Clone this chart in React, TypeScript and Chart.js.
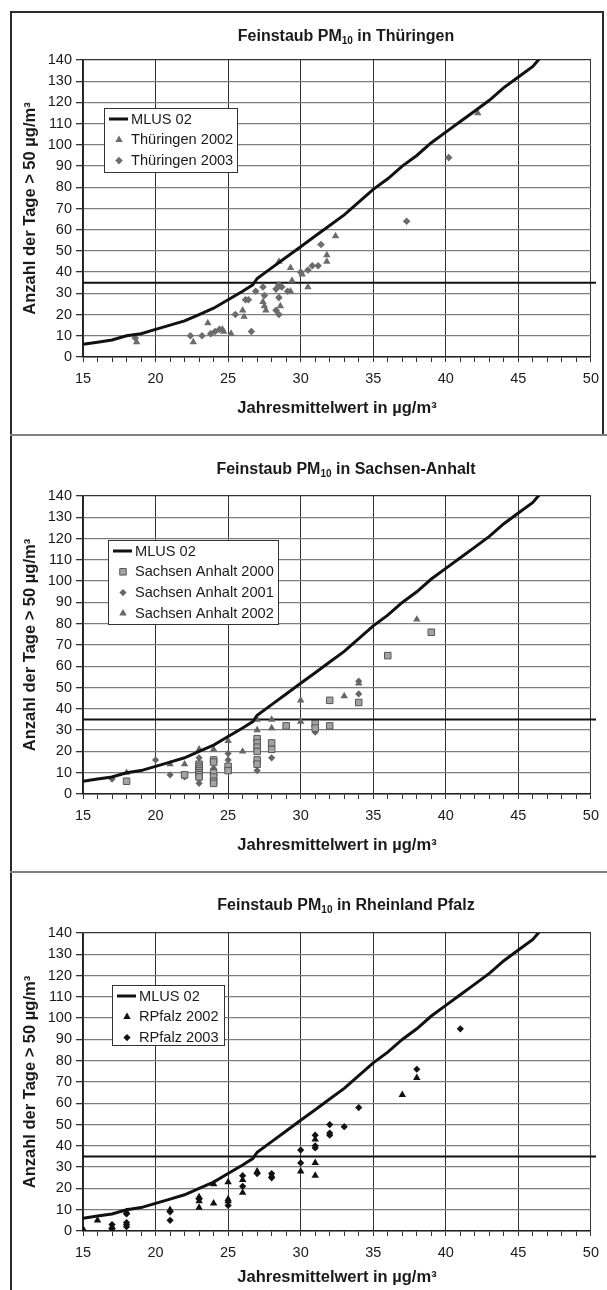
import React, { useEffect, useRef } from 'react';
import { Chart, registerables } from 'chart.js';

Chart.register(...registerables);

// ---------- data ----------
const X_TICK_LABELS = [15, 20, 25, 30, 35, 40, 45, 50];
const Y_TICK_LABELS = [0, 10, 20, 30, 40, 50, 60, 70, 80, 90, 100, 110, 120, 130, 140];
const LIMIT_DAYS = 35;

const MLUS_X = [15, 16, 17, 18, 19, 20, 21, 22, 23, 24, 25, 26, 26.7, 27, 28, 29, 30, 31, 32, 33, 34, 35, 36, 37, 38, 39, 40, 41, 42, 43, 44, 45, 46, 46.5];
const MLUS_Y = [6, 7, 8, 10, 11, 13, 15, 17, 20, 23, 27, 31, 34, 37, 42, 47, 52, 57, 62, 67, 73, 79, 84, 90, 95, 101, 106, 111, 116, 121, 127, 132, 137, 141];

// Thüringen
const TH2002_X = [18.7, 22.6, 23.6, 24.6, 24.7, 25.2, 26.0, 26.1, 27.4, 27.5, 27.6, 28.5, 28.4, 28.6, 29.3, 29.4, 29.3, 30.1, 30.5, 31.8, 31.8, 32.4, 42.2];
const TH2002_Y = [7, 7, 16, 13, 12, 11, 22, 19, 26, 24, 22, 45, 33, 24, 42, 36, 31, 39, 33, 48, 45, 57, 115];
const TH2003_X = [18.6, 22.4, 23.2, 23.8, 24.1, 24.4, 25.5, 26.2, 26.4, 26.6, 26.9, 27.4, 27.5, 28.3, 28.5, 28.7, 28.5, 28.3, 28.5, 29.1, 30.0, 30.5, 30.8, 31.2, 31.4, 37.3, 40.2];
const TH2003_Y = [9, 10, 10, 11, 12, 13, 20, 27, 27, 12, 31, 33, 29, 32, 34, 33, 28, 22, 20, 31, 40, 41, 43, 43, 53, 64, 94];

// Sachsen-Anhalt
const SA2000_X = [18, 22, 23, 23, 23, 23, 23, 23, 23, 24, 24, 24, 24, 24, 24, 25, 25, 27, 27, 27, 27, 27, 27, 28, 28, 29, 31, 31, 32, 32, 34, 36, 39];
const SA2000_Y = [6, 9, 14, 13, 12, 11, 10, 9, 8, 16, 15, 10, 8, 6, 5, 13, 11, 26, 24, 22, 20, 16, 14, 24, 21, 32, 33, 31, 44, 32, 43, 65, 76];
const SA2001_X = [17, 20, 21, 22, 23, 23, 23, 24, 24, 25, 25, 27, 27, 27, 27, 28, 31, 34, 34];
const SA2001_Y = [7, 16, 9, 8, 17, 7, 5, 12, 9, 19, 16, 25, 21, 15, 11, 17, 29, 53, 47];
const SA2002_X = [18, 21, 22, 23, 24, 25, 26, 27, 27, 28, 28, 30, 30, 33, 34, 38];
const SA2002_Y = [10, 14, 14, 21, 21, 25, 20, 35, 30, 35, 31, 44, 34, 46, 52, 82];

// Rheinland-Pfalz
const RP2002_X = [15, 16, 17, 18, 21, 23, 23, 23, 24, 24, 25, 25, 25, 26, 26, 27, 28, 30, 31, 31, 31, 37, 38];
const RP2002_Y = [1, 5, 2, 9, 10, 16, 14, 11, 22, 13, 23, 15, 14, 24, 18, 28, 26, 28, 43, 32, 26, 64, 72];
const RP2003_X = [17, 17, 18, 18, 18, 18, 21, 21, 23, 25, 26, 26, 27, 28, 28, 30, 30, 31, 31, 31, 32, 32, 32, 33, 34, 38, 41];
const RP2003_Y = [3, 1, 8, 4, 3, 2, 9, 5, 15, 12, 26, 21, 27, 27, 25, 38, 32, 45, 40, 39, 50, 46, 45, 49, 58, 76, 95];

// ---------- helpers ----------
const FONT = '"Liberation Sans", Arial, Helvetica, sans-serif';
const zip = (xs: number[], ys: number[]) => xs.map((x, i) => ({ x, y: ys[i] }));

function drawMarker(ctx: CanvasRenderingContext2D, style: string, x: number, y: number, r: number, fill: string, stroke: string, bw: number) {
  ctx.beginPath();
  if (style === 'triangle') {
    ctx.moveTo(x, y - r);
    ctx.lineTo(x + r * 0.866, y + r * 0.5);
    ctx.lineTo(x - r * 0.866, y + r * 0.5);
    ctx.closePath();
  } else if (style === 'rectRot') {
    ctx.moveTo(x, y - r);
    ctx.lineTo(x + r, y);
    ctx.lineTo(x, y + r);
    ctx.lineTo(x - r, y);
    ctx.closePath();
  } else {
    const s = r * Math.SQRT1_2;
    ctx.rect(x - s, y - s, 2 * s, 2 * s);
  }
  ctx.fillStyle = fill;
  ctx.fill();
  if (bw > 0) {
    ctx.lineWidth = bw;
    ctx.strokeStyle = stroke;
    ctx.stroke();
  }
}

const panelTitlePlugin = {
  id: 'panelTitle',
  afterDraw(chart: any, _args: any, opts: any) {
    const ctx = chart.ctx as CanvasRenderingContext2D;
    ctx.save();
    const big = `bold ${opts.size}px ${FONT}`;
    const small = `bold ${opts.subSize}px ${FONT}`;
    ctx.font = big;
    const w1 = ctx.measureText(opts.before).width;
    const w3 = ctx.measureText(opts.after).width;
    ctx.font = small;
    const w2 = ctx.measureText(opts.sub).width;
    let x = opts.x - (w1 + w2 + w3) / 2;
    ctx.fillStyle = '#1a1a1a';
    ctx.textBaseline = 'middle';
    ctx.textAlign = 'left';
    ctx.font = big;
    ctx.fillText(opts.before, x, opts.y);
    x += w1;
    ctx.font = small;
    ctx.fillText(opts.sub, x, opts.y + opts.subShift);
    x += w2;
    ctx.font = big;
    ctx.fillText(opts.after, x, opts.y);
    ctx.restore();
  },
};

const legendBoxPlugin = {
  id: 'legendBox',
  afterDraw(chart: any, _args: any, opts: any) {
    const ctx = chart.ctx as CanvasRenderingContext2D;
    const items = chart.data.datasets.filter((d: any) => d.inLegend);
    ctx.save();
    ctx.fillStyle = '#ffffff';
    ctx.fillRect(opts.left, opts.top, opts.width, opts.height);
    ctx.strokeStyle = '#333';
    ctx.lineWidth = 1;
    ctx.strokeRect(opts.left + 0.5, opts.top + 0.5, opts.width, opts.height);
    ctx.font = `${opts.fontSize}px ${FONT}`;
    ctx.textBaseline = 'middle';
    ctx.textAlign = 'left';
    items.forEach((d: any, i: number) => {
      const y = opts.top + opts.rowStart + i * opts.rowGap;
      if (d.pointRadius === 0) {
        ctx.beginPath();
        ctx.strokeStyle = d.borderColor;
        ctx.lineWidth = d.borderWidth;
        ctx.moveTo(opts.left + opts.swatchFrom, y);
        ctx.lineTo(opts.left + opts.swatchTo, y);
        ctx.stroke();
      } else {
        drawMarker(ctx, d.pointStyle, opts.left + opts.markerX, y, d.pointRadius, d.backgroundColor, d.borderColor, d.borderWidth || 0);
      }
      ctx.fillStyle = '#1a1a1a';
      ctx.fillText(d.label, opts.left + opts.textX, y + 0.5);
    });
    ctx.restore();
  },
};

type Series = { label: string; xs: number[]; ys: number[]; style: string; r: number; fill: string; stroke: string; bw: number };

const PANELS = [
  {
    top: 0, height: 434, padTop: 60, padBottom: 16.1, xScaleH: 60.9,
    title: { before: 'Feinstaub PM', sub: '10', after: ' in Thüringen', y: 37 },
    legend: { left: 104, top: 108, width: 133, height: 64 },
    series: [
      { label: 'Thüringen 2002', xs: TH2002_X, ys: TH2002_Y, style: 'triangle', r: 4.3, fill: '#6c6c6c', stroke: '#6c6c6c', bw: 0 },
      { label: 'Thüringen 2003', xs: TH2003_X, ys: TH2003_Y, style: 'rectRot', r: 3.8, fill: '#6c6c6c', stroke: '#6c6c6c', bw: 0 },
    ] as Series[],
  },
  {
    top: 437, height: 435, padTop: 59, padBottom: 17.1, xScaleH: 60.9,
    title: { before: 'Feinstaub PM', sub: '10', after: ' in Sachsen-Anhalt', y: 33 },
    legend: { left: 108, top: 103, width: 170, height: 84 },
    series: [
      { label: 'Sachsen Anhalt 2000', xs: SA2000_X, ys: SA2000_Y, style: 'rect', r: 4.6, fill: '#a3a3a3', stroke: '#555555', bw: 1 },
      { label: 'Sachsen Anhalt 2001', xs: SA2001_X, ys: SA2001_Y, style: 'rectRot', r: 3.6, fill: '#666666', stroke: '#666666', bw: 0 },
      { label: 'Sachsen Anhalt 2002', xs: SA2002_X, ys: SA2002_Y, style: 'triangle', r: 4.3, fill: '#666666', stroke: '#666666', bw: 0 },
    ] as Series[],
  },
  {
    top: 874, height: 416, padTop: 59, padBottom: 3.1, xScaleH: 55.9,
    title: { before: 'Feinstaub PM', sub: '10', after: ' in Rheinland Pfalz', y: 32 },
    legend: { left: 112, top: 111, width: 112, height: 60 },
    series: [
      { label: 'RPfalz 2002', xs: RP2002_X, ys: RP2002_Y, style: 'triangle', r: 4.3, fill: '#111111', stroke: '#111111', bw: 0 },
      { label: 'RPfalz 2003', xs: RP2003_X, ys: RP2003_Y, style: 'rectRot', r: 3.6, fill: '#111111', stroke: '#111111', bw: 0 },
    ] as Series[],
  },
];

function buildConfig(p: (typeof PANELS)[number]): any {
  const datasets: any[] = [
    {
      type: 'line', label: 'MLUS 02', inLegend: true,
      data: zip(MLUS_X, MLUS_Y),
      borderColor: '#111111', backgroundColor: '#111111', borderWidth: 3,
      pointRadius: 0, tension: 0, fill: false,
    },
    ...p.series.map((s) => ({
      type: 'scatter', label: s.label, inLegend: true,
      data: zip(s.xs, s.ys),
      pointStyle: s.style, pointRadius: s.r, pointHoverRadius: s.r,
      backgroundColor: s.fill, borderColor: s.stroke, borderWidth: s.bw,
    })),
    {
      type: 'line', label: 'Grenzwert', inLegend: false,
      data: [{ x: 15, y: LIMIT_DAYS }, { x: 50.35, y: LIMIT_DAYS }],
      borderColor: '#111111', borderWidth: 2, pointRadius: 0, clip: false,
    },
  ];

  return {
    type: 'scatter',
    data: { datasets },
    plugins: [panelTitlePlugin, legendBoxPlugin],
    options: {
      animation: false,
      responsive: false,
      devicePixelRatio: 1,
      events: [],
      layout: { padding: { left: 21, right: 14, top: p.padTop, bottom: p.padBottom } },
      plugins: {
        legend: { display: false },
        tooltip: { enabled: false },
        title: { display: false },
        panelTitle: { ...p.title, x: 346, size: 16, subSize: 10, subShift: 4 },
        legendBox: {
          ...p.legend, fontSize: 14.6, rowStart: 11, rowGap: 20.8,
          markerX: 15, swatchFrom: 5, swatchTo: 24, textX: 27,
        },
      },
      scales: {
        x: {
          type: 'linear', min: 15, max: 50,
          afterFit: (scale: any) => { scale.height = p.xScaleH; },
          ticks: {
            stepSize: 1, autoSkip: false, maxRotation: 0, padding: 8,
            font: { size: 14.5, family: FONT }, color: '#1a1a1a',
            callback: (v: number) => (X_TICK_LABELS.includes(v) ? String(v) : ''),
          },
          grid: {
            color: (c: any) => (c.tick && X_TICK_LABELS.includes(c.tick.value) ? '#333333' : 'rgba(0,0,0,0)'),
            tickColor: '#333333', tickLength: 5, lineWidth: 1,
          },
          border: { color: '#222222', width: 1.5 },
          title: {
            display: true, text: 'Jahresmittelwert in µg/m³', padding: 0,
            font: { size: 16.5, weight: 'bold', family: FONT }, color: '#1a1a1a',
          },
        },
        y: {
          type: 'linear', min: 0, max: 140,
          afterFit: (scale: any) => { scale.width = 62; },
          ticks: {
            stepSize: 10, padding: 4,
            font: { size: 14.5, family: FONT }, color: '#1a1a1a',
            callback: (v: number) => (Y_TICK_LABELS.includes(v) ? String(v) : ''),
          },
          grid: {
            color: (c: any) => (c.tick && c.tick.value === 140 ? '#333333' : '#7d7d7d'),
            lineWidth: 1.3, tickColor: '#333333', tickLength: 7,
          },
          border: { color: '#222222', width: 1.5 },
          title: {
            display: true, text: 'Anzahl der Tage > 50 µg/m³', padding: 0,
            font: { size: 16.5, weight: 'bold', family: FONT }, color: '#1a1a1a',
          },
        },
      },
    },
  };
}

function Panel({ p }: { p: (typeof PANELS)[number] }) {
  const ref = useRef<HTMLCanvasElement | null>(null);
  useEffect(() => {
    if (!ref.current) return;
    const chart = new Chart(ref.current, buildConfig(p));
    return () => chart.destroy();
  }, [p]);
  return (
    <canvas
      ref={ref}
      width={607}
      height={p.height}
      style={{ position: 'absolute', left: 0, top: p.top, width: 607, height: p.height, display: 'block' }}
    />
  );
}

export default function App() {
  const line = (s: React.CSSProperties) => <div style={{ position: 'absolute', zIndex: 2, ...s }} />;
  return (
    <div style={{ position: 'absolute', left: 0, top: 0, width: 607, height: 1290, background: '#fff', overflow: 'hidden' }}>
      {PANELS.map((p, i) => <Panel key={i} p={p} />)}
      {line({ left: 10, top: 11, width: 594, height: 2, background: '#2a2a2a' })}
      {line({ left: 10, top: 11, width: 2, height: 1279, background: '#2a2a2a' })}
      {line({ left: 602, top: 11, width: 2, height: 424, background: '#2a2a2a' })}
      {line({ left: 10, top: 434, width: 597, height: 2, background: '#808080' })}
      {line({ left: 10, top: 871, width: 597, height: 2, background: '#808080' })}
    </div>
  );
}
